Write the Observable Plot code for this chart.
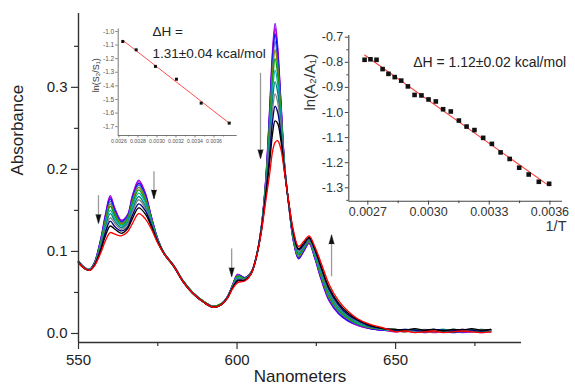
<!DOCTYPE html>
<html><head><meta charset="utf-8">
<script src="https://cdn.jsdelivr.net/npm/d3@7"></script>
<script src="https://cdn.jsdelivr.net/npm/@observablehq/plot@0.6"></script>
<style>
html,body{margin:0;padding:0;background:#fff;}
#wrap{position:relative;width:575px;height:389px;overflow:hidden;font-family:"Liberation Sans",Arial,sans-serif;}
#wrap svg{position:absolute;}
</style></head><body><div id="wrap"></div>
<script>
// ---- main spectra (absorbance vs wavelength, nm) ----
const wavelengths = [550,552,553.5,555,557,558.5,560,561.5,563.5,565.5,567,569,571,573,575,577,580,583,586,589.5,592.5,595,597,598.5,600.2,602.5,604.5,606,607.5,609,610.3,611.2,612,612.8,613.8,615,616.5,617.8,619.4,621,622.7,624.5,626.5,629,632,635,638,642,646,650,653,656,659,662,665,668,671,674,677,680];
const s01 = [.088,.080,.078,.086,.115,.145,.168,.152,.138,.145,.168,.187,.172,.142,.115,.098,.083,.064,.050,.039,.033,.036,.045,.058,.072,.068,.075,.092,.125,.185,.275,.345,.378,.350,.285,.205,.150,.112,.091,.100,.110,.092,.066,.040,.024,.015,.010,.006,.004,.003,.002,.004,.001,.003,.002,.003,.001,.002,.003,.002];
const s02 = [.088,.080,.078,.086,.114,.144,.166,.151,.137,.144,.167,.185,.171,.141,.115,.098,.083,.064,.050,.039,.033,.036,.045,.058,.072,.068,.075,.092,.125,.184,.272,.340,.372,.345,.283,.205,.150,.113,.092,.100,.110,.093,.067,.041,.025,.016,.010,.006,.004,.002,.004,.003,.002,.001,.003,.004,.002,.003,.001,.003];
const s03 = [.088,.080,.078,.086,.113,.142,.164,.149,.136,.143,.165,.183,.169,.141,.115,.098,.083,.064,.050,.039,.033,.036,.045,.058,.071,.068,.075,.093,.125,.183,.268,.334,.365,.340,.280,.204,.150,.113,.092,.101,.111,.093,.068,.042,.025,.016,.011,.006,.004,.004,.003,.002,.004,.003,.002,.001,.003,.004,.002,.004];
const s04 = [.088,.080,.078,.085,.112,.140,.161,.147,.135,.142,.163,.181,.167,.140,.114,.098,.083,.064,.050,.039,.033,.036,.045,.057,.071,.067,.075,.092,.124,.181,.263,.327,.356,.333,.276,.204,.151,.114,.093,.102,.111,.094,.069,.043,.026,.017,.011,.007,.005,.003,.004,.002,.003,.005,.002,.003,.004,.002,.003,.002];
const s05 = [.088,.080,.078,.085,.111,.138,.158,.145,.134,.140,.161,.178,.165,.139,.114,.098,.083,.064,.050,.039,.033,.036,.045,.057,.070,.067,.075,.092,.124,.180,.257,.318,.346,.325,.272,.203,.151,.115,.094,.103,.112,.095,.070,.044,.028,.018,.012,.007,.005,.004,.002,.005,.003,.002,.004,.003,.005,.003,.004,.003];
const s06 = [.087,.080,.078,.085,.110,.135,.155,.143,.132,.139,.158,.175,.162,.138,.114,.098,.082,.064,.050,.039,.033,.036,.044,.057,.069,.067,.074,.093,.124,.178,.251,.308,.335,.316,.267,.202,.152,.116,.096,.104,.113,.096,.072,.046,.029,.019,.012,.008,.005,.005,.003,.004,.002,.004,.005,.002,.003,.004,.002,.004];
const s07 = [.087,.080,.078,.084,.108,.133,.150,.140,.131,.137,.155,.171,.160,.136,.113,.097,.082,.063,.049,.038,.032,.035,.044,.056,.068,.066,.074,.092,.123,.175,.244,.297,.321,.305,.262,.201,.152,.117,.097,.105,.114,.097,.074,.048,.030,.020,.013,.008,.005,.003,.005,.004,.003,.004,.002,.005,.004,.003,.005,.003];
const s08 = [.087,.079,.077,.084,.107,.129,.146,.137,.129,.135,.151,.167,.156,.135,.113,.097,.082,.063,.049,.038,.032,.035,.044,.056,.067,.066,.074,.092,.123,.173,.236,.285,.307,.294,.256,.200,.152,.118,.098,.106,.114,.099,.076,.050,.032,.021,.014,.008,.006,.004,.003,.005,.004,.003,.005,.004,.002,.005,.003,.004];
const s09 = [.087,.079,.077,.084,.105,.126,.141,.134,.127,.133,.148,.163,.153,.133,.112,.097,.082,.063,.049,.038,.032,.035,.044,.056,.066,.066,.074,.091,.122,.170,.228,.272,.292,.282,.250,.199,.153,.120,.100,.107,.115,.100,.078,.052,.033,.022,.015,.009,.006,.005,.004,.003,.005,.004,.003,.005,.004,.003,.005,.004];
const s10 = [.087,.079,.077,.083,.103,.123,.137,.130,.125,.130,.144,.158,.150,.132,.112,.097,.082,.063,.049,.038,.032,.035,.044,.055,.065,.065,.074,.092,.122,.168,.219,.259,.277,.270,.243,.198,.153,.121,.102,.108,.116,.102,.080,.054,.035,.023,.016,.009,.006,.004,.005,.004,.003,.005,.004,.003,.005,.004,.003,.005];
const s11 = [.086,.079,.077,.083,.101,.119,.131,.127,.122,.128,.140,.153,.146,.130,.111,.097,.082,.063,.049,.038,.032,.035,.043,.055,.064,.065,.073,.092,.121,.165,.209,.244,.259,.256,.236,.197,.154,.123,.103,.110,.117,.104,.082,.056,.037,.025,.017,.010,.006,.005,.004,.006,.004,.005,.003,.005,.004,.006,.004,.005];
const s12 = [.086,.079,.077,.082,.098,.113,.123,.121,.119,.124,.134,.146,.140,.127,.110,.097,.082,.063,.049,.038,.032,.035,.043,.054,.062,.064,.073,.092,.120,.160,.195,.222,.233,.235,.225,.195,.155,.125,.106,.112,.119,.106,.086,.060,.040,.027,.018,.011,.007,.002,.003,.001,.002,.003,.001,.002,.003,.002,.001,.002];
const runColors = ["#8000ff","#c000c0","#0000ff","#3a5fcd","#808000","#00a000","#00b0b0","#008080","#808080","#000080","#000000","#ff0000"];

// main axis ticks
const xTicks = [550, 600, 650];
const xMinor = [575, 625, 675];
const yTicks = [0, 0.1, 0.2, 0.3];
const yMinor = [0.05, 0.15, 0.25, 0.35];

// arrows (nm, absorbance from, absorbance to)
const arrowNm   = [556.3, 573.8, 607.4, 598.3, 629.8];
const arrowFrom = [0.168, 0.197, 0.317, 0.103, 0.069];
const arrowTo   = [0.134, 0.164, 0.213, 0.069, 0.120];

// inset 1: ln(S2/S1) vs 1/T
const ins1InvT = [0.00264, 0.002781, 0.002984, 0.003205, 0.003465, 0.00376];
const ins1Ln   = [-1.074, -1.135, -1.257, -1.351, -1.527, -1.674];
const ins1XTicks = [0.0026, 0.0028, 0.0030, 0.0032, 0.0034, 0.0036];
const ins1XMinor = [0.0027, 0.0029, 0.0031, 0.0033, 0.0035, 0.0037];
const ins1YTicks = [-1.0, -1.1, -1.2, -1.3, -1.4, -1.5, -1.6, -1.7];

// inset 2: ln(A2/A1) vs 1/T
const ins2InvT = [0.002684,0.002713,0.002743,0.002773,0.002802,0.002833,0.002865,0.002898,0.002931,0.002965,0.003000,0.003036,0.003072,0.003110,0.003150,0.003188,0.003227,0.003270,0.003313,0.003356,0.003401,0.003448,0.003495,0.003545,0.003596];
const ins2Ln   = [-0.790,-0.788,-0.790,-0.827,-0.846,-0.859,-0.873,-0.896,-0.930,-0.932,-0.948,-0.956,-0.987,-0.996,-1.032,-1.056,-1.070,-1.101,-1.125,-1.159,-1.185,-1.220,-1.247,-1.276,-1.284];
const ins2XTicks = [0.0027, 0.0030, 0.0033, 0.0036];
const ins2XMinor = [0.00285, 0.00315, 0.00345];
const ins2YTicks = [-0.7, -0.8, -0.9, -1.0, -1.1, -1.2, -1.3];
const ins2YMinor = [-0.75, -0.85, -0.95, -1.05, -1.15, -1.25, -1.35];

const labels = {
  x: "Nanometers", y: "Absorbance",
  dh1a: "ΔH =", dh1b: "1.31±0.04 kcal/mol",
  dh2: "ΔH = 1.12±0.02 kcal/mol",
  ins1y: "ln(S₂/S₁)", ins2y: "ln(A₂/A₁)", ins2x: "1/T"
};

const fam = '"Liberation Sans", Arial, sans-serif';
const runs = [s01,s02,s03,s04,s05,s06,s07,s08,s09,s10,s11,s12];
runs.forEach((r,i)=>{ if (r.length !== wavelengths.length) throw new Error("run "+(i+1)+" has "+r.length+" values, expected "+wavelengths.length); });
const spectra = runs.map(vals => wavelengths.map((w,j)=>({nm:w, a:vals[j]})));
const arrows = arrowNm.map((x,i)=>({x, y1:arrowFrom[i], y2:arrowTo[i]}));
const noLabel = () => "";

const main = Plot.plot({
  width:575, height:389, marginLeft:78, marginRight:54, marginTop:13, marginBottom:47,
  style:{fontFamily:fam, color:"#222", background:"transparent", overflow:"visible"},
  x:{domain:[550,689.7]}, y:{domain:[-0.011,0.390]},
  marks:[
    ...spectra.map((d,i)=>Plot.line(d,{x:"nm", y:"a", stroke:runColors[i], strokeWidth:1.35, curve:"catmull-rom"})),
    Plot.ruleX([550],{stroke:"#333", strokeWidth:1.4}),
    Plot.ruleY([-0.011],{stroke:"#333", strokeWidth:1.4}),
    Plot.axisY(yTicks,{tickSize:7, tickPadding:4, fontSize:15, tickFormat:d=>d.toFixed(1), label:null, stroke:"#333", strokeWidth:1.2}),
    Plot.axisY(yMinor,{tickSize:4, tickFormat:noLabel, label:null, stroke:"#333", strokeWidth:1.2}),
    Plot.axisX(xTicks,{tickSize:7, tickPadding:5, fontSize:15, tickFormat:d=>String(d), label:null, stroke:"#333", strokeWidth:1.2}),
    Plot.axisX(xMinor,{tickSize:4, tickFormat:noLabel, label:null, stroke:"#333", strokeWidth:1.2}),
    Plot.ruleX(arrows,{x:"x", y1:"y1", y2:"y2", stroke:"#9a9a9a", strokeWidth:1.3}),
    Plot.vector(arrows,{x:"x", y:"y2", length:9, rotate:d=>d.y2<d.y1?180:0, anchor:"end", shape:"spike", r:2.6, fill:"#111", stroke:"#111", strokeWidth:0.5}),
    Plot.text([labels.y],{frameAnchor:"left", dx:-60.5, dy:-2.5, rotate:-90, fontSize:17, fill:"#222"}),
    Plot.text([labels.x],{frameAnchor:"bottom", dy:39, fontSize:17, fill:"#222"}),
    Plot.text([labels.dh1a],{frameAnchor:"top-left", dx:74, dy:22, textAnchor:"start", lineAnchor:"bottom", fontSize:13.5, fill:"#222"}),
    Plot.text([labels.dh1b],{frameAnchor:"top-left", dx:74, dy:44, textAnchor:"start", lineAnchor:"bottom", fontSize:13.5, fill:"#222"}),
    Plot.text([labels.dh2],{frameAnchor:"top-left", dx:334.7, dy:53.5, textAnchor:"start", lineAnchor:"bottom", fontSize:14, fill:"#222"})
  ]
});

const ins1Data = ins1InvT.map((x,i)=>({x, y:ins1Ln[i]}));
const ins1 = Plot.plot({
  width:160, height:130, marginLeft:32.7, marginRight:8.3, marginTop:8.5, marginBottom:15,
  style:{fontFamily:fam, color:"#555", background:"transparent", overflow:"visible"},
  x:{domain:[0.002592,0.003844]}, y:{domain:[-1.765,-0.982]},
  marks:[
    Plot.ruleX([0.002592],{stroke:"#666", strokeWidth:0.9}),
    Plot.ruleY([-1.765],{stroke:"#666", strokeWidth:0.9}),
    Plot.axisY(ins1YTicks,{tickSize:2.5, tickPadding:1.5, fontSize:6.5, tickFormat:d=>d.toFixed(1), label:null, stroke:"#666", strokeWidth:0.8}),
    Plot.axisX(ins1XTicks,{tickSize:2.5, tickPadding:1, fontSize:5.2, tickFormat:d=>d.toFixed(4), label:null, stroke:"#666", strokeWidth:0.8}),
    Plot.axisX(ins1XMinor,{tickSize:1.5, tickFormat:noLabel, label:null, stroke:"#666", strokeWidth:0.8}),
    Plot.linearRegressionY(ins1Data,{x:"x", y:"y", stroke:"#ff5050", strokeWidth:1, ci:0}),
    Plot.dot(ins1Data,{x:"x", y:"y", symbol:"square", r:1.7, fill:"#111", stroke:"none"}),
    Plot.text([labels.ins1y],{frameAnchor:"left", dx:-21.7, dy:10, rotate:-90, fontSize:9, fill:"#333"})
  ]
});
ins1.style.left = "85px"; ins1.style.top = "20px";

const ins2Data = ins2InvT.map((x,i)=>({x, y:ins2Ln[i]}));
const ins2 = Plot.plot({
  width:280, height:215, marginLeft:53.3, marginRight:13, marginTop:10, marginBottom:39.3,
  style:{fontFamily:fam, color:"#333", background:"transparent", overflow:"visible"},
  x:{domain:[0.002606,0.003662]}, y:{domain:[-1.3534,-0.6932]},
  marks:[
    Plot.ruleX([0.002606],{stroke:"#444", strokeWidth:1.1}),
    Plot.ruleY([-1.3534],{stroke:"#444", strokeWidth:1.1}),
    Plot.axisY(ins2YTicks,{tickSize:3.5, tickPadding:2, fontSize:12.5, tickFormat:d=>d.toFixed(1), label:null, stroke:"#444"}),
    Plot.axisY(ins2YMinor.filter(v=>v>-1.3534),{tickSize:2, tickFormat:noLabel, label:null, stroke:"#444"}),
    Plot.axisX(ins2XTicks,{tickSize:4, tickPadding:2, fontSize:12.5, tickFormat:d=>d.toFixed(4), label:null, stroke:"#444"}),
    Plot.axisX(ins2XMinor,{tickSize:2.5, tickFormat:noLabel, label:null, stroke:"#444"}),
    Plot.linearRegressionY(ins2Data,{x:"x", y:"y", stroke:"#ff4040", strokeWidth:1.1, ci:0}),
    Plot.dot(ins2Data,{x:"x", y:"y", symbol:"square", r:2.6, fill:"#111", stroke:"none"}),
    Plot.text([labels.ins2y],{frameAnchor:"left", dx:-38.3, dy:-7.8, rotate:-90, fontSize:15, fill:"#333"}),
    Plot.text([labels.ins2x],{frameAnchor:"bottom-right", dx:4, dy:29.3, textAnchor:"end", lineAnchor:"bottom", fontSize:14.5, fill:"#333"})
  ]
});
ins2.style.left = "295px"; ins2.style.top = "25px";

const wrap = document.getElementById("wrap");
main.style.left = "0px"; main.style.top = "0px";
wrap.append(main, ins1, ins2);
</script>
</body></html>
